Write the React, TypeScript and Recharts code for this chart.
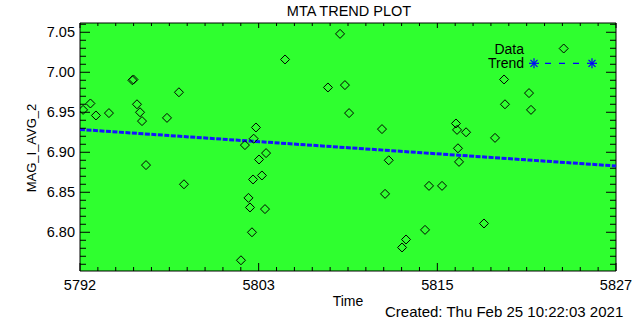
import React from 'react';
import { ScatterChart, Scatter, XAxis, YAxis, CartesianGrid } from 'recharts';

// data
const TIME = [
  5792.2, 5792.68, 5793.04, 5793.89, 5795.42, 5795.49, 5795.72, 5795.92, 5796.05, 5796.31,
  5797.68, 5798.46, 5798.79, 5802.51, 5802.77, 5803.0, 5803.1, 5803.23, 5803.3, 5803.34,
  5803.49, 5803.69, 5803.88, 5804.08, 5804.15, 5805.39, 5808.19, 5808.98, 5809.3, 5809.57,
  5811.72, 5811.92, 5812.16, 5813.03, 5813.29, 5814.53, 5814.79, 5815.64, 5816.55, 5816.62,
  5816.68, 5816.75, 5817.21, 5818.38, 5819.1, 5819.69, 5819.75, 5821.32, 5821.45,
];
const MAG = [
  6.953, 6.961, 6.946, 6.949, 6.99, 6.991, 6.96, 6.95, 6.939, 6.884,
  6.943, 6.975, 6.86, 6.765, 6.909, 6.843, 6.831, 6.8, 6.866, 6.917,
  6.931, 6.891, 6.871, 6.829, 6.899, 7.016, 6.981, 7.048, 6.984, 6.949,
  6.929, 6.848, 6.89, 6.781, 6.791, 6.803, 6.858, 6.858, 6.936, 6.928,
  6.905, 6.888, 6.925, 6.811, 6.918, 6.991, 6.96, 6.974, 6.953,
];
const TREND_TIME = [5792, 5827];
const TREND_MAG = [6.9285, 6.8829];

const X_DOMAIN = [5792, 5827];
const Y_DOMAIN = [6.7516, 7.0616];
const X_TICK_LABELS = ['5792', '5803', '5815', '5827'];
const Y_TICK_LABELS = ['6.80', '6.85', '6.90', '6.95', '7.00', '7.05'];

const points = TIME.map((t, i) => ({ time: t, mag: MAG[i] }));
const trend = TREND_TIME.map((t, i) => ({ time: t, mag: TREND_MAG[i] }));

// IDL style: 10 minor intervals between labelled x ticks, 0.01 minor on y
const xStep = (X_DOMAIN[1] - X_DOMAIN[0]) / ((X_TICK_LABELS.length - 1) * 10);
const xTicks = Array.from({ length: (X_TICK_LABELS.length - 1) * 10 + 1 }, (_, i) => X_DOMAIN[0] + i * xStep);
const yTicks = Array.from({ length: 31 }, (_, i) => +(6.76 + i * 0.01).toFixed(2));

const FONT = '"Liberation Sans", Arial, sans-serif';
const GREEN = '#2fff2f';

const xIndex = (v: number) => Math.round((v - X_DOMAIN[0]) / xStep);
const yLabel = (v: number) => Y_TICK_LABELS.find((l) => Math.abs(parseFloat(l) - v) < 1e-6);

function BottomTick(props: any) {
  const { x, y, payload } = props;
  const i = xIndex(payload.value);
  const major = i % 10 === 0;
  return (
    <g>
      <line x1={x} x2={x} y1={y} y2={y - (major ? 8 : 4)} stroke="#000" />
      {major && (
        <text x={x} y={y + 19} textAnchor="middle" fontSize={14.5} fontFamily={FONT} fill="#000">
          {X_TICK_LABELS[i / 10]}
        </text>
      )}
    </g>
  );
}

function TopTick(props: any) {
  const { x, y, payload } = props;
  const major = xIndex(payload.value) % 10 === 0;
  return <line x1={x} x2={x} y1={y} y2={y + (major ? 5 : 3)} stroke="#000" />;
}

function LeftTick(props: any) {
  const { x, y, payload } = props;
  const label = yLabel(payload.value);
  return (
    <g>
      <line x1={x} x2={x + (label ? 10 : 6)} y1={y} y2={y} stroke="#000" />
      {label && (
        <text x={x - 5} y={y} dy={5} textAnchor="end" fontSize={14.5} fontFamily={FONT} fill="#000">
          {label}
        </text>
      )}
    </g>
  );
}

function RightTick(props: any) {
  const { x, y, payload } = props;
  const major = !!yLabel(payload.value);
  return <line x1={x} x2={x - (major ? 10 : 6)} y1={y} y2={y} stroke="#000" />;
}

function Diamond(props: any) {
  const { cx, cy } = props;
  const r = 4.5;
  return (
    <path
      d={`M${cx},${cy - r}L${cx + r},${cy}L${cx},${cy + r}L${cx - r},${cy}Z`}
      fill="none"
      stroke="#000"
      strokeWidth={1}
    />
  );
}

function Star({ x, y }: { x: number; y: number }) {
  const r = 5;
  return (
    <g stroke="#0000ff" strokeWidth={1.2}>
      <line x1={x - r} x2={x + r} y1={y} y2={y} />
      <line x1={x} x2={x} y1={y - r} y2={y + r} />
      <line x1={x - r * 0.7} x2={x + r * 0.7} y1={y - r * 0.7} y2={y + r * 0.7} />
      <line x1={x - r * 0.7} x2={x + r * 0.7} y1={y + r * 0.7} y2={y - r * 0.7} />
    </g>
  );
}

export default function App() {
  return (
    <div style={{ position: 'absolute', left: 0, top: 0, width: 640, height: 320, background: '#fff', fontFamily: FONT }}>
      <ScatterChart width={640} height={320} margin={{ top: 22, right: 0, bottom: 19, left: 0 }}>
        <CartesianGrid xAxisId="b" yAxisId="l" fill={GREEN} horizontal={false} vertical={false} />
        <XAxis
          xAxisId="b"
          type="number"
          dataKey="time"
          domain={X_DOMAIN}
          ticks={xTicks}
          interval={0}
          allowDataOverflow
          tickSize={0}
          tickMargin={0}
          tickLine={false}
          tick={<BottomTick />}
          height={30}
          axisLine={{ stroke: '#000' }}
        />
        <XAxis
          xAxisId="t"
          orientation="top"
          type="number"
          dataKey="time"
          domain={X_DOMAIN}
          ticks={xTicks}
          interval={0}
          allowDataOverflow
          tickSize={0}
          tickMargin={0}
          tickLine={false}
          tick={<TopTick />}
          height={1}
          axisLine={{ stroke: '#000' }}
        />
        <YAxis
          yAxisId="l"
          type="number"
          dataKey="mag"
          domain={Y_DOMAIN}
          ticks={yTicks}
          interval={0}
          allowDataOverflow
          tickSize={0}
          tickMargin={0}
          tickLine={false}
          tick={<LeftTick />}
          width={80}
          axisLine={{ stroke: '#000' }}
        />
        <YAxis
          yAxisId="r"
          orientation="right"
          type="number"
          dataKey="mag"
          domain={Y_DOMAIN}
          ticks={yTicks}
          interval={0}
          allowDataOverflow
          tickSize={0}
          tickMargin={0}
          tickLine={false}
          tick={<RightTick />}
          width={24}
          axisLine={{ stroke: '#000' }}
        />
        <Scatter
          name="Trend"
          xAxisId="t"
          yAxisId="r"
          data={trend}
          line={{ stroke: '#1414ff', strokeWidth: 3, strokeDasharray: '5 1.5' }}
          shape={() => <g />}
          isAnimationActive={false}
        />
        <Scatter
          name="Data"
          xAxisId="b"
          yAxisId="l"
          data={points}
          shape={<Diamond />}
          isAnimationActive={false}
        />
      </ScatterChart>

      <div style={{ position: 'absolute', left: 349, top: 3, transform: 'translateX(-50%)', fontSize: 14.5, whiteSpace: 'nowrap', lineHeight: '17px' }}>
        MTA TREND PLOT
      </div>
      <div
        style={{
          position: 'absolute',
          left: 31,
          top: 148,
          transform: 'translate(-50%, -50%) rotate(-90deg)',
          fontSize: 13,
          whiteSpace: 'nowrap',
        }}
      >
        MAG_I_AVG_2
      </div>
      <div style={{ position: 'absolute', left: 348, top: 293, transform: 'translateX(-50%)', fontSize: 14, lineHeight: '16px' }}>
        Time
      </div>
      <div style={{ position: 'absolute', left: 385, top: 303, fontSize: 15, whiteSpace: 'nowrap', lineHeight: '17px' }}>
        Created: Thu Feb 25 10:22:03 2021
      </div>

      <svg style={{ position: 'absolute', left: 0, top: 0 }} width={640} height={320}>
        <text x={524} y={53.5} textAnchor="end" fontSize={14} fontFamily={FONT}>Data</text>
        <Diamond cx={563.7} cy={48.5} />
        <text x={524} y={68} textAnchor="end" fontSize={14} fontFamily={FONT}>Trend</text>
        <Star x={534} y={63.3} />
        <line x1={545} x2={583} y1={63.3} y2={63.3} stroke="#0000ff" strokeWidth={1.2} strokeDasharray="6 8" />
        <Star x={592} y={63.3} />
      </svg>
    </div>
  );
}
